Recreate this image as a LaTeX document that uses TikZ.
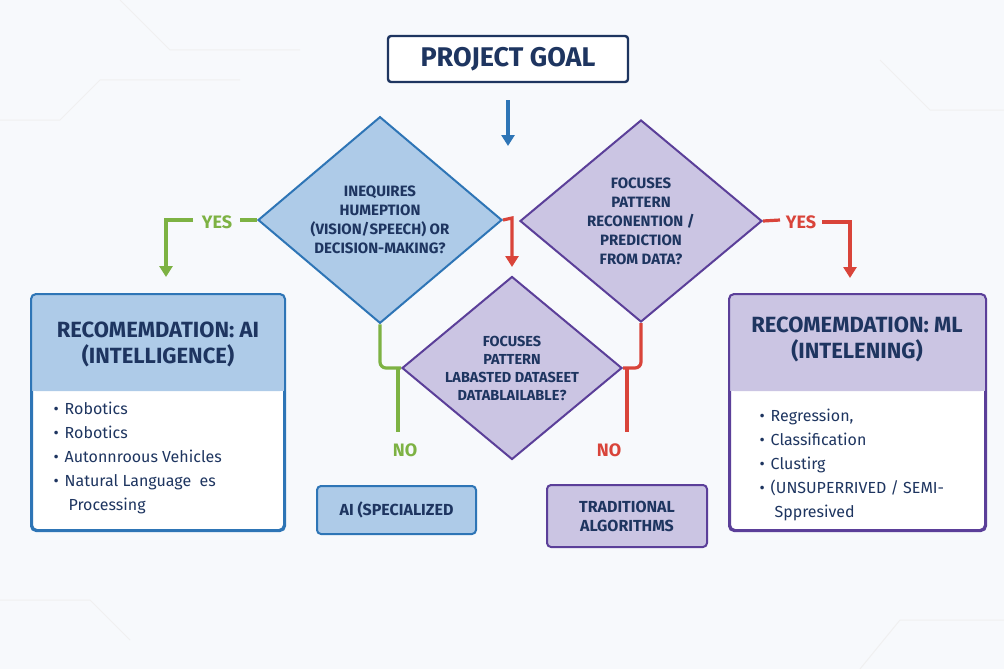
\documentclass[tikz,border=0pt]{standalone}
\usepackage{fontspec}
\setmainfont{Fira Sans}
\usetikzlibrary{shapes.geometric,arrows.meta}
\definecolor{navy}{HTML}{1E3560}
\definecolor{bblue}{HTML}{2E75B6}
\definecolor{lblue}{HTML}{AECBE8}
\definecolor{purp}{HTML}{5B3F99}
\definecolor{lpurp}{HTML}{CBC5E3}
\definecolor{grn}{HTML}{7DB243}
\definecolor{rd}{HTML}{D9443A}
\definecolor{bg}{HTML}{F7F9FC}
\newcommand{\bul}{\raisebox{0pt}{\textbullet}\hspace{6pt}}
\begin{document}
\begin{tikzpicture}[x=1pt,y=-1pt,
 dia/.style={diamond,draw,line width=2pt,inner sep=0pt,text=navy,font=\fontsize{15}{19}\selectfont\bfseries,align=center},
 conn/.style={line width=3.2pt},
 tip/.style={-{Triangle[length=11pt,width=13pt]}},
 lab/.style={font=\fontsize{18}{20}\selectfont\bfseries},
 hdr/.style={text=navy,font=\fontsize{22}{26}\selectfont\bfseries,align=center},
 itm/.style={text=navy,font=\fontsize{16}{24}\selectfont,align=left,anchor=north west},
 sbox/.style={draw,line width=2pt,rounded corners=4pt,text=navy,font=\fontsize{16}{19}\selectfont\bfseries,align=center}]
\fill[bg] (0,0) rectangle (1004,669);
\useasboundingbox (0,0) rectangle (1004,669);
\draw[gray!12,line width=1pt] (0,120)--(60,120)--(100,80)--(240,80) (880,60)--(930,110)--(1004,110) (0,600)--(90,600)--(130,640) (860,669)--(900,620)--(1004,620) (120,0)--(170,50)--(300,50);
% title
\node[draw=navy,fill=white,line width=2.4pt,rounded corners=3pt,minimum width=240pt,minimum height=46pt,text=navy,font=\fontsize{27}{30}\selectfont\bfseries] (goal) at (508,59) {PROJECT GOAL};
\coordinate (ga) at (508,100);
\coordinate (gb) at (508,146);
\draw[bblue,conn,tip] (ga) -- (gb);
% diamonds
\node[dia,draw=bblue,fill=lblue,minimum width=244pt,minimum height=204pt] (d1) at (380,220) {INEQUIRES\\HUMEPTION\\(VISION/SPEECH) OR\\DECISION-MAKING?};
\node[dia,draw=purp,fill=lpurp,minimum width=242pt,minimum height=202pt] (d2) at (641,221) {FOCUSES\\PATTERN\\RECONENTION /\\PREDICTION\\FROM DATA?};
\node[dia,draw=purp,fill=lpurp,minimum width=220pt,minimum height=183pt,inner sep=-14pt,font=\fontsize{14.5}{18}\selectfont\bfseries] (d3) at (512,368) {FOCUSES\\PATTERN\\LABASTED DATASEET\\DATABLAILABLE?};
% boxes
\node[draw=bblue,fill=white,line width=2pt,rounded corners=5pt,minimum width=252pt,minimum height=235pt] (ai) at (158,412.5) {};
\fill[lblue,rounded corners=4pt] ([shift={(1,1)}]ai.north west) rectangle ([shift={(-1,97)}]ai.north east);
\fill[lblue] ([shift={(1,60)}]ai.north west) rectangle ([shift={(-1,97)}]ai.north east);
\draw[bblue,line width=2pt,rounded corners=5pt] (ai.north west) rectangle (ai.south east);
\node[hdr] (aih) at (158,344) {RECOMEMDATION: AI\\(INTELLIGENCE)};
\node[itm] (ail) at (50,398) {\bul Robotics\\\bul Robotics\\\bul Autonnroous Vehicles\\\bul Natural Language \ es\\\hspace{15pt}Processing};
\node[draw=purp,fill=white,line width=2pt,rounded corners=5pt,minimum width=255pt,minimum height=235pt] (ml) at (857.5,412.5) {};
\fill[lpurp,rounded corners=4pt] ([shift={(1,1)}]ml.north west) rectangle ([shift={(-1,97)}]ml.north east);
\fill[lpurp] ([shift={(1,60)}]ml.north west) rectangle ([shift={(-1,97)}]ml.north east);
\draw[purp,line width=2pt,rounded corners=5pt] (ml.north west) rectangle (ml.south east);
\node[hdr] (mlh) at (857,339) {RECOMEMDATION: ML\\(INTELENING)};
\node[itm] (mll) at (756,405) {\bul Regression,\\\bul Classification\\\bul Clustirg\\\bul (UNSUPERRIVED / SEMI-\\\hspace{15pt}Sppresived};
\node[sbox,draw=bblue,fill=lblue,minimum width=159pt,minimum height=48pt] (spec) at (396.5,510) {AI (SPECIALIZED};
\node[sbox,draw=purp,fill=lpurp,minimum width=160pt,minimum height=62pt] (trad) at (627,516) {TRADITIONAL\\ALGORITHMS};
% connectors
\coordinate (g1) at (240,220); \coordinate (g2) at (193,220); \coordinate (g3) at (166,220); \coordinate (g4) at (166,277);
\draw[grn,conn] (d1.west) -- (g1);
\node[lab,text=grn] (yes1) at (217,222) {YES};
\draw[grn,conn,tip] (g2) -- (g3) -- (g4);
\coordinate (r1) at (780,220); \coordinate (r2) at (822,222); \coordinate (r3) at (850,222); \coordinate (r4) at (850,278);
\draw[rd,conn] (d2.east) -- (r1);
\node[lab,text=rd] (yes2) at (801,222) {YES};
\draw[rd,conn,tip] (r2) -- (r3) -- (r4);
\coordinate (m1) at (512,218); \coordinate (m2) at (512,267);
\draw[rd,conn,tip] (d1.east) -- (m1) -- (m2);
\coordinate (n1) at (380,368); \coordinate (n2) at (398,368); \coordinate (n3) at (398,432);
\draw[grn,conn,rounded corners=6pt] (d1.south) -- (n1) -- (d3.west);
\draw[grn,conn] (n2) -- (n3);
\node[lab,text=grn] (no1) at (405,450) {NO};
\coordinate (q1) at (641,368); \coordinate (q2) at (627,368); \coordinate (q3) at (627,432);
\draw[rd,conn,rounded corners=6pt] (d2.south) -- (q1) -- (d3.east);
\draw[rd,conn] (q2) -- (q3);
\node[lab,text=rd] (no2) at (609,450) {NO};
\end{tikzpicture}
\end{document}
